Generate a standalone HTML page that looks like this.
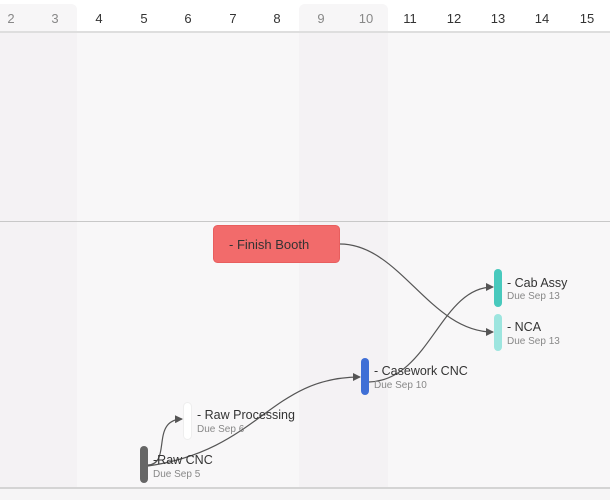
<!DOCTYPE html>
<html><head><style>
html,body{margin:0;padding:0;width:610px;height:500px;overflow:hidden;background:#f8f7f8;font-family:"Liberation Sans",sans-serif}
.a{position:absolute}
</style></head><body>
<div class="a" style="left:0;top:0;width:610px;height:32px;background:#fff"></div>
<div class="a" style="left:0;top:4px;width:77px;height:496px;background:#f4f2f4;border-top-right-radius:6px"></div>
<div class="a" style="left:299px;top:4px;width:89px;height:496px;background:#f4f2f4;border-radius:6px 6px 0 0"></div>
<div class="a" style="left:0;top:4px;width:77px;height:28px;background:#f7f6f7;border-top-right-radius:6px"></div>
<div class="a" style="left:299px;top:4px;width:89px;height:28px;background:#f7f6f7;border-radius:6px 6px 0 0"></div>
<div class="a" style="left:0;top:31px;width:610px;height:2px;background:#dedede"></div>
<div class="a" style="left:0;top:221px;width:610px;height:1px;background:#c8c8c8"></div>
<div class="a" style="left:0;top:487px;width:610px;height:2px;background:#d4d4d4"></div>
<div class="a" style="left:0;top:489px;width:610px;height:11px;background:#f6f5f6"></div>
<svg class="a" style="left:0;top:0" width="610" height="500">
<g font-family="Liberation Sans, sans-serif" font-size="13" text-anchor="middle">
<text x="11" y="23" fill="#888">2</text><text x="55" y="23" fill="#888">3</text>
<text x="99" y="23" fill="#333">4</text><text x="144" y="23" fill="#333">5</text>
<text x="188" y="23" fill="#333">6</text><text x="233" y="23" fill="#333">7</text>
<text x="277" y="23" fill="#333">8</text><text x="321" y="23" fill="#888">9</text>
<text x="366" y="23" fill="#888">10</text><text x="410" y="23" fill="#333">11</text>
<text x="454" y="23" fill="#333">12</text><text x="498" y="23" fill="#333">13</text>
<text x="542" y="23" fill="#333">14</text><text x="587" y="23" fill="#333">15</text>
</g>
<defs><marker id="m" markerWidth="8" markerHeight="8" refX="7" refY="4" orient="auto" markerUnits="userSpaceOnUse"><path d="M0,0 L8,4 L0,8z" fill="#555"/></marker></defs>
<rect x="213.5" y="225.5" width="126" height="37" rx="4" fill="#f26b6b" stroke="#e85e5e"/>
<text x="229" y="249" font-size="13" fill="#333">- Finish Booth</text>
<g fill="none" stroke="#555" stroke-width="1.2">
<path d="M340,244 C400,244 430,332 493,332" marker-end="url(#m)"/>
<path d="M369,382 C430,380 440,287 493,287" marker-end="url(#m)"/>
<path d="M148,466 C260,450 270,377 360,377" marker-end="url(#m)"/>
<path d="M148,465 C172,464 150,420 182,419" marker-end="url(#m)"/>
</g>
<rect x="494" y="269" width="8" height="38" rx="4" fill="#48c9bd"/>
<rect x="494" y="314" width="8" height="37" rx="4" fill="#9de5df"/>
<rect x="361" y="358" width="8" height="37" rx="4" fill="#3f6fd6"/>
<rect x="183.5" y="402.5" width="8" height="37" rx="4" fill="#fff" stroke="#eee"/>
<rect x="140" y="446" width="8" height="37" rx="4" fill="#666"/>
<g font-size="12.5" fill="#333">
<text x="507" y="287">- Cab Assy</text>
<text x="507" y="331">- NCA</text>
<text x="374" y="375">- Casework CNC</text>
<text x="197" y="419">- Raw Processing</text>
<text x="153" y="464">-Raw CNC</text>
</g>
<g font-size="10" fill="#888">
<text x="507" y="299">Due Sep 13</text>
<text x="507" y="344">Due Sep 13</text>
<text x="374" y="388">Due Sep 10</text>
<text x="197" y="432">Due Sep 6</text>
<text x="153" y="477">Due Sep 5</text>
</g>
</svg>
</body></html>
